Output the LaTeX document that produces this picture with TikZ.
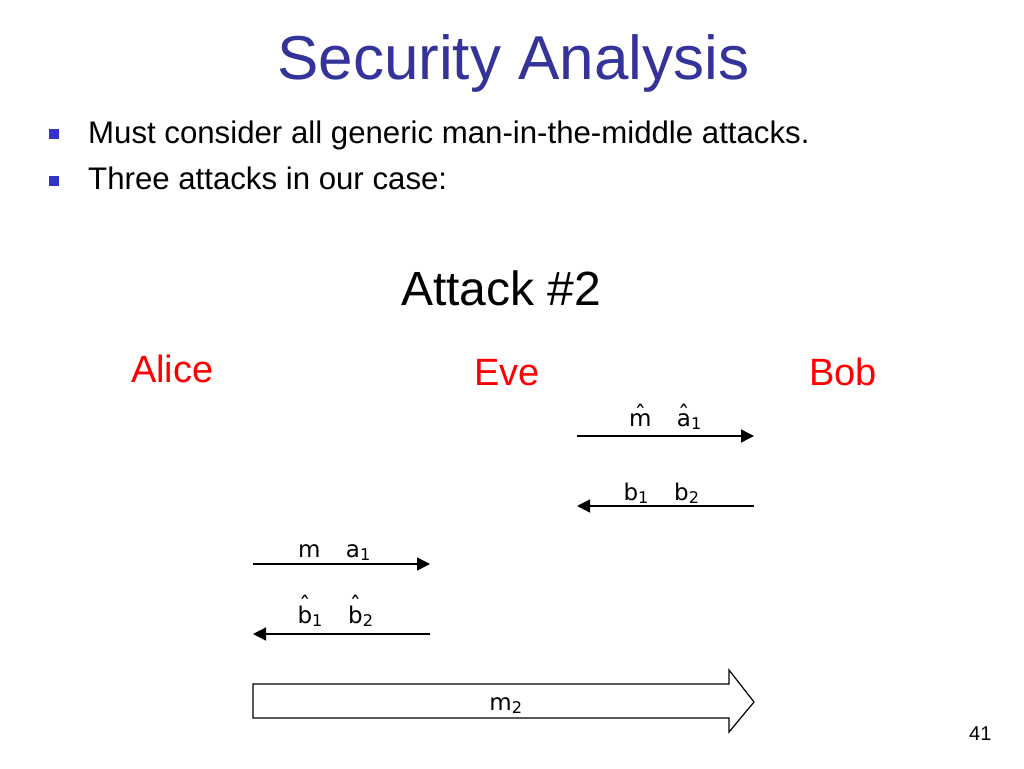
\documentclass[tikz,border=0pt]{standalone}
\usepackage{fontspec}
\setmainfont{Liberation Sans}
\newfontfamily\msgfont{DejaVu Sans}
\usepackage{tikz}
\usetikzlibrary{positioning,
        arrows.meta}
\usepackage{xcolor}
\definecolor{titleblue}{RGB}{51,51,153}
\definecolor{bulletblue}{RGB}{51,51,204}
\newcommand{\sub}[1]{\textsubscript{#1}}
\newcommand{\hatted}[2]{\ooalign{#2\cr\hidewidth\raisebox{#1}{ˆ}\hidewidth\cr}}

\begin{document}
\begin{tikzpicture}[x=1pt,y=-1pt,
        party/.style={anchor=base west,inner sep=0,text=red,font=\fontsize{38}{40}\selectfont},
        item/.style={anchor=base west,inner sep=0,font=\fontsize{31.2}{34}\selectfont},
        lbl/.style={anchor=base,inner sep=0,font=\msgfont\fontsize{23}{25}\selectfont},
        msg/.style={-{Triangle[length=13pt,width=13pt]},line width=1.4pt},
        bullet/.style={fill=bulletblue,draw=none}]
            \useasboundingbox[fill=white] (0,0) rectangle (1024,768);

            \node [anchor=base west,inner sep=0,text=titleblue,font=\fontsize{62}{64}\selectfont] (title) at (277,79) {Security Analysis};
            \fill [bullet] (49,129) rectangle (59,139);
            \node [item] (item1) at (88,143) {Must consider all generic man-in-the-middle attacks.};
            \fill [bullet] (49,176) rectangle (59,186);
            \node [item] (item2) at (88,189) {Three attacks in our case:};

            \node [anchor=base west,inner sep=0,font=\fontsize{48}{50}\selectfont] (attack) at (401,305) {Attack \#2};
            \node [party] (alice) at (131,382) {Alice};
            \node [party] (eve) at (474,385) {Eve};
            \node [party] (bob) at (809,385) {Bob};

            \coordinate (e1) at (577,436);
            \coordinate (b1) at (754,436);
            \coordinate (e2) at (577,506);
            \coordinate (b2) at (754,506);
            \coordinate (a3) at (253,564);
            \coordinate (e3) at (430,564);
            \coordinate (a4) at (253,634);
            \coordinate (e4) at (430,634);

            \draw [msg] (e1) -- node [lbl,yshift=10pt] {\hatted{0.25ex}{m}\hspace{1.1em}\hatted{0.25ex}{a}\sub{1}} (b1);
            \draw [msg] (b2) -- node [lbl,yshift=6pt,xshift=-4pt] {b\sub{1}\hspace{1.1em}b\sub{2}} (e2);
            \draw [msg] (a3) -- node [lbl,yshift=7pt,xshift=-7pt] {m\hspace{1.1em}a\sub{1}} (e3);
            \draw [msg] (e4) -- node [lbl,yshift=11pt,xshift=-6pt] {\hatted{0.75ex}{b}\sub{1}\hspace{1.1em}\hatted{0.75ex}{b}\sub{2}} (a4);

            \draw [line width=1.2pt,line join=miter] (253,684) -- (729,684) -- (729,670) -- (754,702)
                -- (729,732) -- (729,718) -- (253,718) -- cycle;
            \node [lbl] (m2) at (506,710) {m\sub{2}};

            \node [anchor=base west,inner sep=0,font=\fontsize{20}{22}\selectfont] (page) at (969,740) {41};
        \end{tikzpicture}
\end{document}
